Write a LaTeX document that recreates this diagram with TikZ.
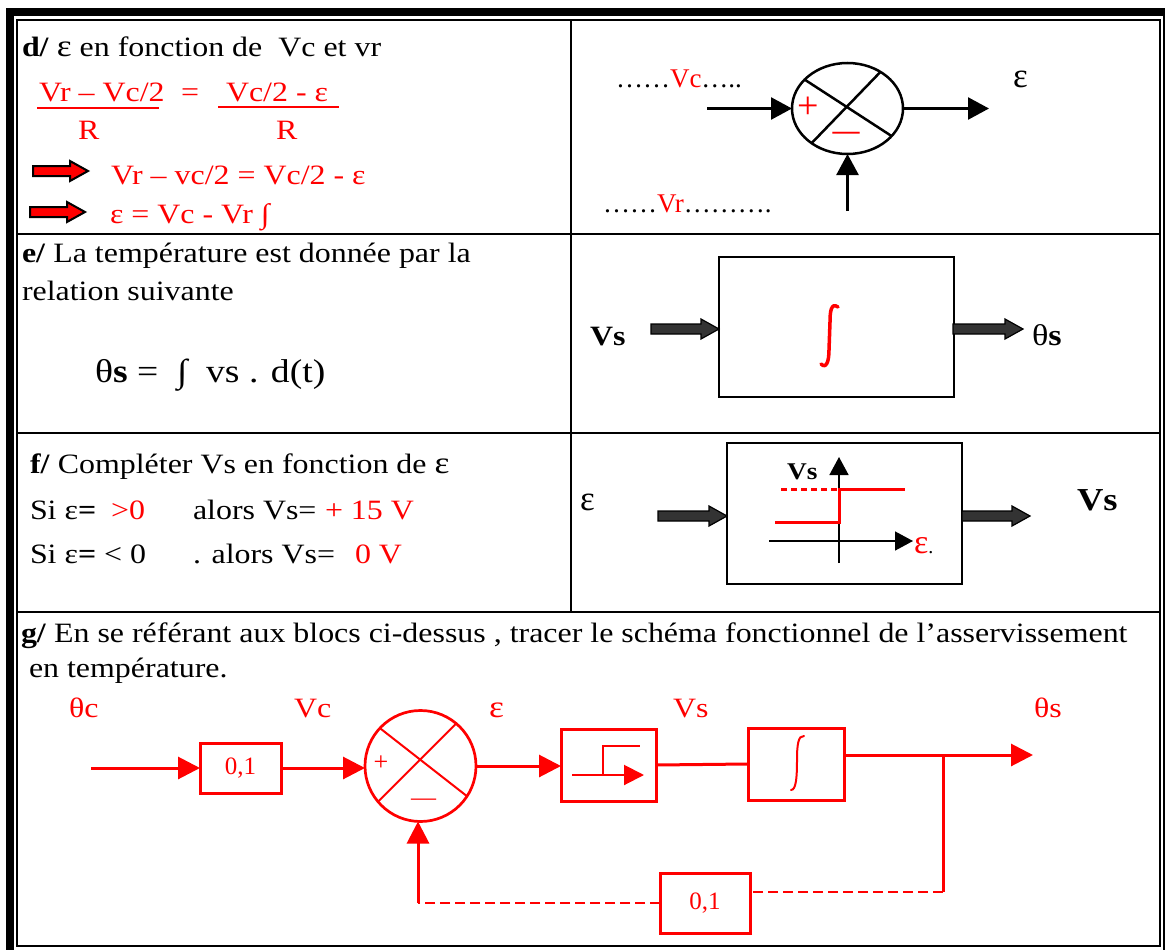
\documentclass[tikz,border=0pt]{standalone}
\usepackage{fontspec}
\setmainfont{Liberation Serif}
\newfontfamily\wide[FakeStretch=1.14]{Liberation Serif}
\usetikzlibrary{arrows.meta,shapes.geometric}
\definecolor{dk}{RGB}{51,51,51}
\newcommand\fatarrow[5]{%
  \filldraw[fill=#4, draw=black, line width=#5] (#1,#2-5) -- (#1+#3-18,#2-5) -- (#1+#3-18,#2-10) -- (#1+#3,#2) -- (#1+#3-18,#2+10) -- (#1+#3-18,#2+5) -- (#1,#2+5) -- cycle;}
\begin{document}
\begin{tikzpicture}[x=1pt,y=-1pt,
  every node/.style={inner sep=0pt,outer sep=0pt},
  txt/.style={anchor=base west,font=\wide\fontsize{28}{34}\selectfont},
  lbl/.style={anchor=base west,font=\fontsize{27}{32}\selectfont},
  blkline/.style={line width=2.5pt},
  tipb/.style={-{Triangle[length=21pt,width=22pt]}},
  redtip/.style={-{Triangle[length=22pt,width=22pt]}},
  rl/.style={draw=red,line width=3pt},
  rdash/.style={draw=red,line width=2pt,dash pattern=on 10pt off 5pt},
  rbox/.style={draw=red,line width=3pt},
  bbox/.style={draw=black,line width=2pt}]
\useasboundingbox (0,0) rectangle (1165,950);
% frame
\fill (6,8) rectangle (1165,16);
\fill (6,8) rectangle (14,950);
\fill (1163,16) rectangle (1165,950);
\draw[line width=2pt] (17,20) rectangle (1160,946);
\draw[line width=2pt] (17,234) -- (1160,234);
\draw[line width=2pt] (17,433) -- (1160,433);
\draw[line width=2pt] (17,612) -- (1160,612);
\draw[line width=2pt] (571,20) -- (571,612);

% ---------- d left
\node[txt] (dt) at (22,57) {\textbf{d/} {\fontsize{31}{34}\selectfont ε} en fonction de\ \ Vc et vr};
\node[txt,red] (f1) at (39,102) {Vr – Vc/2};
\node[txt,red] (feq) at (181,102) {=};
\node[txt,red] (f2) at (226,102) {Vc/2 - ε};
\draw[red,line width=1.5pt] (37,108) -- (159,108);
\draw[red,line width=1.5pt] (218,107) -- (339,107);
\node[txt,red] (r1) at (78,139) {R};
\node[txt,red] (r2) at (276,139) {R};
\fatarrow{33}{171}{55}{red}{2pt}
\fatarrow{30}{212}{55}{red}{2pt}
\node[txt,red] (l3) at (111,184) {Vr – vc/2 = Vc/2 - ε};
\node[txt,red] (l4) at (110,223) {ε = Vc - Vr ∫};

% ---------- d right
\node[lbl] (vcl) at (616,88) {……\textcolor{red}{Vc}…..};
\node[lbl] (vrl) at (603,212) {……\textcolor{red}{Vr}……….};
\node[draw,ellipse,line width=2.5pt,minimum width=111pt,minimum height=91pt] (sd) at (847.5,108.5) {};
\draw[line width=2.5pt] (sd.146) -- (sd.-32);
\draw[line width=2.5pt] (sd.48) -- (sd.224);
\node[red,font=\fontsize{38}{38}\selectfont] (pd) at (808,108) {+};
\node[red,font=\bfseries\fontsize{27}{27}\selectfont] (md) at (846,136) {—};
\coordinate (din) at (707,108.5);
\draw[blkline,tipb] (din) -- (sd.west);
\coordinate (dout) at (989,108.5);
\draw[blkline,tipb] (sd.east) -- (dout);
\node[lbl,font=\fontsize{35}{35}\selectfont] (epsd) at (1013,88) {ε};
\coordinate (dvr) at (847.5,211);
\draw[blkline,tipb] (dvr) -- (sd.south);

% ---------- e left
\node[txt] (et) at (22,262) {\textbf{e/} La température est donnée par la};
\node[txt] (et2) at (22,300) {relation suivante};
\node[txt,font=\wide\fontsize{33}{36}\selectfont] (form) at (95,382) {θ\textbf{s} =\ \ ∫\ \ vs . d(t)};

% ---------- e right
\node[bbox,minimum width=235pt,minimum height=140pt] (intb) at (836.5,327) {};
\draw[red,line width=3.5pt,line cap=round] (838,307) .. controls (831,302) and (830,312) .. (830,322) -- (829,350) .. controls (829,362) and (826,369) .. (821,364);
\node[anchor=base west,font=\wide\bfseries\fontsize{28}{32}\selectfont] (vse) at (590,345) {Vs};
\fatarrow{651}{329}{68}{dk}{1.2pt}
\fatarrow{953}{329}{70}{dk}{1.2pt}
\node[anchor=base west,font=\wide\fontsize{30}{32}\selectfont] (ths) at (1032,345) {θ\textbf{s}};

% ---------- f left
\node[txt] (ft) at (30,473) {\textbf{f/} Compléter Vs en fonction de {\fontsize{31}{34}\selectfont ε}};
\node[txt] (s1a) at (30,519) {Si ε\textbf{=}};
\node[txt,red] (s1b) at (111,519) {>0};
\node[txt] (s1c) at (193,519) {alors Vs=};
\node[txt,red] (s1d) at (325,519) {+ 15 V};
\node[txt] (s2a) at (30,563) {Si ε\textbf{=} < 0};
\node[txt] (s2c) at (193,563) {. alors Vs=};
\node[txt,red] (s2d) at (355,563) {0 V};

% ---------- f right
\node[bbox,minimum width=235pt,minimum height=141pt] (relb) at (844.5,513.5) {};
\node[lbl,font=\fontsize{35}{35}\selectfont] (epsf) at (580,510) {ε};
\fatarrow{658}{516}{69}{dk}{1.2pt}
\fatarrow{962}{516}{68}{dk}{1.2pt}
\node[anchor=base west,font=\wide\bfseries\fontsize{32}{34}\selectfont] (vsf) at (1077,510) {Vs};
\coordinate (ay0) at (839,563);
\coordinate (ay1) at (839,457);
\coordinate (ax0) at (769,541);
\coordinate (ax1) at (913,541);
\draw[line width=1.5pt,-{Triangle[length=18pt,width=19pt]}] (ay0) -- (ay1);
\draw[line width=1.5pt,-{Triangle[length=18pt,width=19pt]}] (ax0) -- (ax1);
\node[anchor=base west,font=\wide\bfseries\fontsize{24}{26}\selectfont] (vsa) at (787,479) {Vs};
\node[anchor=base west,font=\fontsize{34}{34}\selectfont] (epsa) at (914,553) {\textcolor{red}{ε}\fontsize{20}{20}\selectfont.};
\draw[red,line width=3pt,dash pattern=on 6pt off 4pt] (781,489) -- (839,489);
\draw[red,line width=3pt] (775,522) -- (839,522) -- (839,489) -- (905,489);

% ---------- g
\node[txt] (gt) at (21,642) {\textbf{g/} En se référant aux blocs ci-dessus , tracer le schéma fonctionnel de l’asservissement};
\node[txt] (gt2) at (29,677) {en température.};
\node[txt,red] (gthc) at (69,717) {θc};
\node[txt,red] (gvc) at (294,717) {Vc};
\node[txt,red,font=\wide\fontsize{31}{34}\selectfont] (geps) at (489,717) {ε};
\node[txt,red] (gvs) at (673,717) {Vs};
\node[txt,red] (gths) at (1034,717) {θs};

\node[rbox,minimum width=81pt,minimum height=50pt,font=\fontsize{25}{25}\selectfont,text=red] (k1) at (240.5,768) {0,1};
\node[draw=red,circle,line width=2.7pt,minimum size=111pt] (sg) at (420.5,766) {};
\draw[red,line width=2pt] (sg.137) -- (sg.-33);
\draw[red,line width=2pt] (sg.50) -- (sg.220);
\node[red,font=\fontsize{26}{26}\selectfont] (pg) at (381,763) {+};
\node[red,font=\fontsize{25}{25}\selectfont] (mg) at (423.5,802) {—};
\node[rbox,minimum width=95pt,minimum height=72pt] (relay) at (608.5,765) {};
\node[rbox,minimum width=96pt,minimum height=72pt] (integ) at (796,764) {};
\node[rbox,minimum width=90pt,minimum height=60pt,font=\fontsize{25}{25}\selectfont,text=red] (k2) at (705,903) {0,1};

\coordinate (gin) at (91,768);
\draw[rl,redtip] (gin) -- (k1.west);
\draw[rl,redtip] (k1.east) -- (k1.east -| sg.west);
\draw[rl,redtip] (sg.east) -- (sg.east -| relay.west);
\draw[red,line width=2pt,-{Triangle[length=20pt,width=20pt]}] (572,775) -- (644,775);
\draw[red,line width=2pt] (603,775) -- (603,746) -- (640,746);
\draw[rl] (relay.east) -- (integ.west);
\draw[red,line width=2pt,line cap=round] (804,736) .. controls (798,735) and (797,746) .. (797,760) .. controls (797,778) and (796,790) .. (791,790);
\coordinate (gout) at (1033,755);
\coordinate (br) at (943,755);
\coordinate (brd) at (943,892);
\draw[rl,redtip] (integ.east |- gout) -- (gout);
\draw[rl] (br) -- (brd);
\draw[rdash] (brd) -- (brd -| k2.east);
\coordinate (fbc) at (418,903);
\draw[rdash] (k2.west) -- (fbc);
\draw[rl,redtip] (fbc) -- (fbc |- sg.south);
\end{tikzpicture}
\end{document}
